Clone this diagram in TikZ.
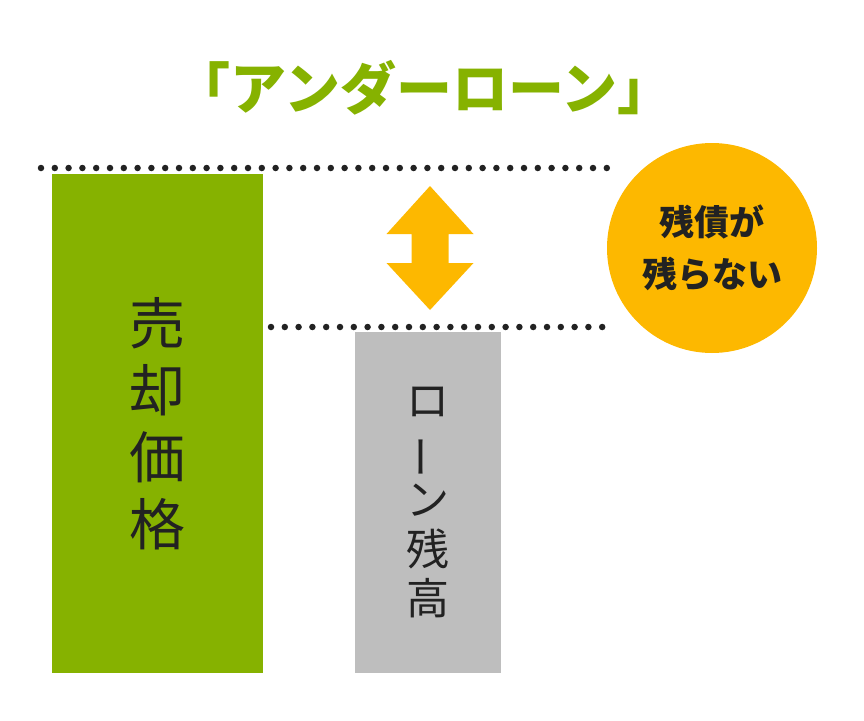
\documentclass[tikz,border=0pt]{standalone}
\usepackage{fontspec}
\usepackage{graphicx}
\newfontfamily\jpfont{Noto Sans CJK JP}
\usetikzlibrary{positioning, calc}
\definecolor{undergreen}{HTML}{86B200}
\definecolor{debtyellow}{HTML}{FDB800}
\definecolor{loangray}{HTML}{BEBEBE}
\definecolor{inkdark}{HTML}{222222}

\begin{document}
\begin{tikzpicture}[x=1pt, y=-1pt, font=\jpfont]
  \useasboundingbox (0,0) rectangle (864,720);
  % Styles
  \tikzstyle{barbox} = [inner sep=0pt, anchor=north west, align=center, text=inkdark]
  \tikzstyle{dotline} = [inkdark, line width=6.5pt, line cap=round, dash pattern=on 0pt off 13.8pt]

  % Title
  \node[text=undergreen, font=\jpfont\bfseries\fontsize{56}{56}\selectfont] (title) at (424,88)
    {「アンダーローン」};

  % Dotted levels
  \coordinate (topL) at (41,168);
  \coordinate (topR) at (607,168);
  \coordinate (lowL) at (271,327);
  \coordinate (lowR) at (602.2,327);
  \draw[dotline] (topL) -- (topR);
  \draw[dotline] (lowL) -- (lowR);

  % Bars
  \node[barbox, fill=undergreen, minimum width=211pt, minimum height=499pt,
        font=\jpfont\fontsize{56}{67}\selectfont] (sale) at (52,174)
    {売\\却\\価\\格};
  \node[barbox, fill=loangray, minimum width=146pt, minimum height=341pt,
        font=\jpfont\fontsize{43}{49.5}\selectfont] (loan) at (355,332)
    {ロ\\\rotatebox[origin=c]{90}{ー}\\ン\\残\\高};

  % Gap arrow
  \coordinate (gap) at (430,248);
  \fill[debtyellow] ($(gap)+(0,-62)$) -- ++(43.5,48) -- ++(-25,0) -- ++(0,29) -- ++(25,0)
    -- ++(-43.5,47) -- ++(-43.5,-47) -- ++(25,0) -- ++(0,-29) -- ++(-25,0) -- cycle;

  % Result circle
  \node[circle, fill=debtyellow, minimum size=210pt, inner sep=0pt, align=center, text=inkdark,
        font=\jpfont\bfseries\fontsize{35}{52}\selectfont] (result) at (712,248)
    {残債が\\残らない};
\end{tikzpicture}
\end{document}
